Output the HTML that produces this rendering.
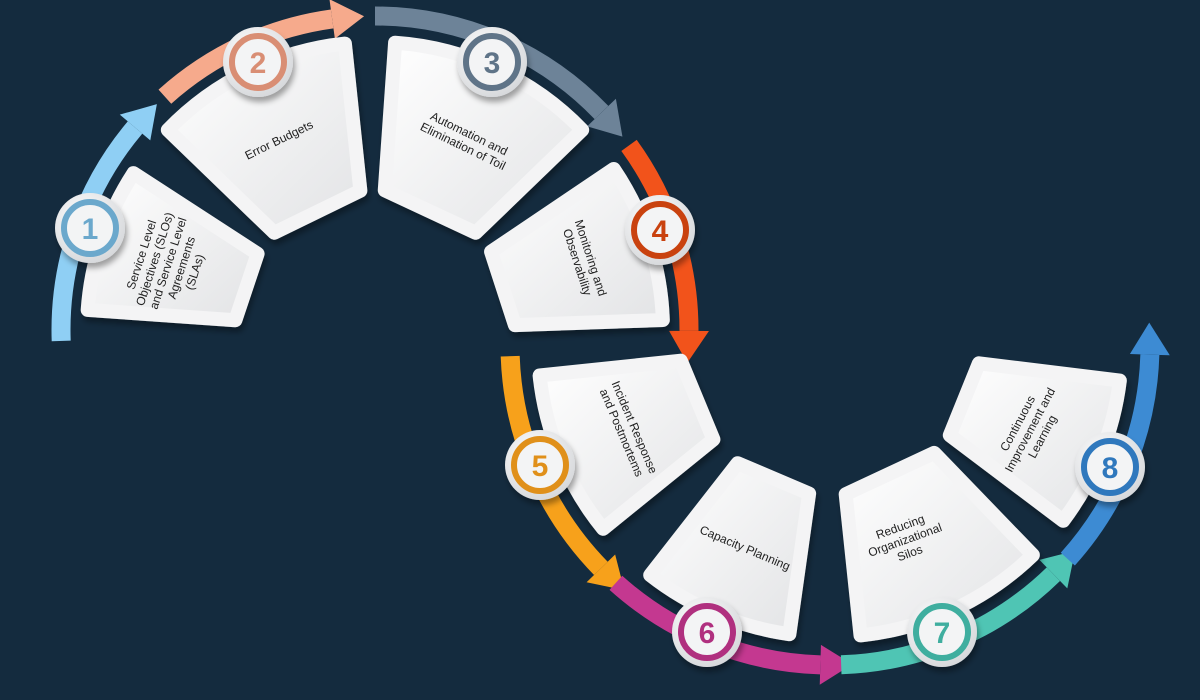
<!DOCTYPE html>
<html><head><meta charset="utf-8"><style>
html,body{margin:0;padding:0;background:#142b3e;}
svg{display:block}
text{font-family:"Liberation Sans",sans-serif;font-size:12px;fill:#222;}
.n{font-size:30px;font-weight:bold;}
</style></head><body>
<svg id="s" width="1200" height="700" viewBox="0 0 1200 700" xmlns="http://www.w3.org/2000/svg">
<defs>
<linearGradient id="cg" x1="0" y1="0" x2="1" y2="1"><stop offset="0" stop-color="#ffffff"/><stop offset="1" stop-color="#e2e3e5"/></linearGradient>
<radialGradient id="wg" cx="0.4" cy="0.35" r="0.7"><stop offset="0" stop-color="#ffffff"/><stop offset="1" stop-color="#d5d7da"/></radialGradient>
<filter id="sh" x="-20%" y="-20%" width="140%" height="140%"><feDropShadow dx="2" dy="5" stdDeviation="3" flood-color="#000" flood-opacity="0.35"/></filter>
</defs>
<g id="arrows"></g>
<g id="cards"></g>
<g id="circles"></g>
<g id="labels">
<text transform="translate(170,264) rotate(-72)" text-anchor="middle"><tspan x="0" y="-26">Service Level</tspan><tspan x="0" y="-12">Objectives (SLOs)</tspan><tspan x="0" y="2">and Service Level</tspan><tspan x="0" y="16">Agreements</tspan><tspan x="0" y="30">(SLAs)</tspan></text>
<text transform="translate(279,140) rotate(-26)" text-anchor="middle"><tspan x="0" y="4">Error Budgets</tspan></text>
<text transform="translate(466,140) rotate(26)" text-anchor="middle"><tspan x="0" y="-3">Automation and</tspan><tspan x="0" y="11">Elimination of Toil</tspan></text>
<text transform="translate(584,260) rotate(72)" text-anchor="middle"><tspan x="0" y="-3">Monitoring and</tspan><tspan x="0" y="11">Observability</tspan></text>
<text transform="translate(628,430) rotate(67)" text-anchor="middle"><tspan x="0" y="-3">Incident Response</tspan><tspan x="0" y="11">and Postmortems</tspan></text>
<text transform="translate(745,548) rotate(23)" text-anchor="middle"><tspan x="0" y="4">Capacity Planning</tspan></text>
<text transform="translate(905,540) rotate(-20)" text-anchor="middle"><tspan x="0" y="-10">Reducing</tspan><tspan x="0" y="4">Organizational</tspan><tspan x="0" y="18">Silos</tspan></text>
<text transform="translate(1030,430) rotate(-62)" text-anchor="middle"><tspan x="0" y="-10">Continuous</tspan><tspan x="0" y="4">Improvement and</tspan><tspan x="0" y="18">Learning</tspan></text>
</g>
<g id="nums"></g>
</svg>
<script>
var NS="http://www.w3.org/2000/svg";
function el(p,t,a){var e=document.createElementNS(NS,t);for(var k in a)e.setAttribute(k,a[k]);document.getElementById(p).appendChild(e);return e;}
function pt(c,r,a){var t=a*Math.PI/180;return [c[0]+r*Math.cos(t),c[1]+r*Math.sin(t)];}
var T=[375,330],B=[830,345];
function sector(c,a0,a1,ri,ro){
 var p1=pt(c,ro,a0),p2=pt(c,ro,a1),p3=pt(c,ri,a1),p4=pt(c,ri,a0);
 var d="M"+p1+" A"+ro+" "+ro+" 0 0 1 "+p2+" L"+p3+" L"+p4+"Z";
 el("cards","path",{d:d,fill:"url(#cg)",stroke:"#f4f4f5","stroke-width":14,"stroke-linejoin":"round",filter:"url(#sh)"});
}
[[184,213],[224,264],[274,316],[326,358]].forEach(function(s){sector(T,s[0],s[1],140,288);});
[[141,174],[98,128],[46,84],[7,37]].forEach(function(s){sector(B,s[0],s[1],150,292);});
function arrow(c,r,a0,a1,col,w){
 var dir=a1>a0?1:-1;var hl=32;var ae=a1-dir*(hl/r)*180/Math.PI;
 var p0=pt(c,r,a0),p1=pt(c,r,ae);
 el("arrows","path",{d:"M"+p0+" A"+r+" "+r+" 0 0 "+(dir>0?1:0)+" "+p1,fill:"none",stroke:col,"stroke-width":w});
 var tip=pt(c,r,a1),b1=pt(c,r-w*1.05,ae),b2=pt(c,r+w*1.05,ae);
 el("arrows","polygon",{points:tip+" "+b1+" "+b2,fill:col});
}
arrow(T,314,178,226,"#8fcff4",19);
arrow(T,314,228,268,"#f6aa8c",19);
arrow(T,314,270,322,"#6d8398",19);
arrow(T,314,324,366,"#f2531b",19);
arrow(B,320,178,130,"#f7a11b",19);
arrow(B,320,132,86,"#c43890",19);
arrow(B,320,88,40,"#4fc5b4",19);
arrow(B,320,42,-4,"#3d8bd3",19);
var C=[[90,228,"#6ba8cc","1"],[258,62,"#d98e74","2"],[492,62,"#5f7488","3"],[660,230,"#c9420f","4"],[540,465,"#e0901a","5"],[707,632,"#b0307f","6"],[942,632,"#3fae9f","7"],[1110,467,"#2f78bd","8"]];
C.forEach(function(c){
 el("circles","circle",{cx:c[0],cy:c[1],r:35,fill:"url(#wg)",filter:"url(#sh)"});
 el("circles","circle",{cx:c[0],cy:c[1],r:26,fill:"#f3f4f5",stroke:c[2],"stroke-width":6});
 var t=el("nums","text",{x:c[0],y:c[1]+11,"text-anchor":"middle","class":"n",fill:c[2],style:"fill:"+c[2]});t.textContent=c[3];
});
</script>
</body></html>
